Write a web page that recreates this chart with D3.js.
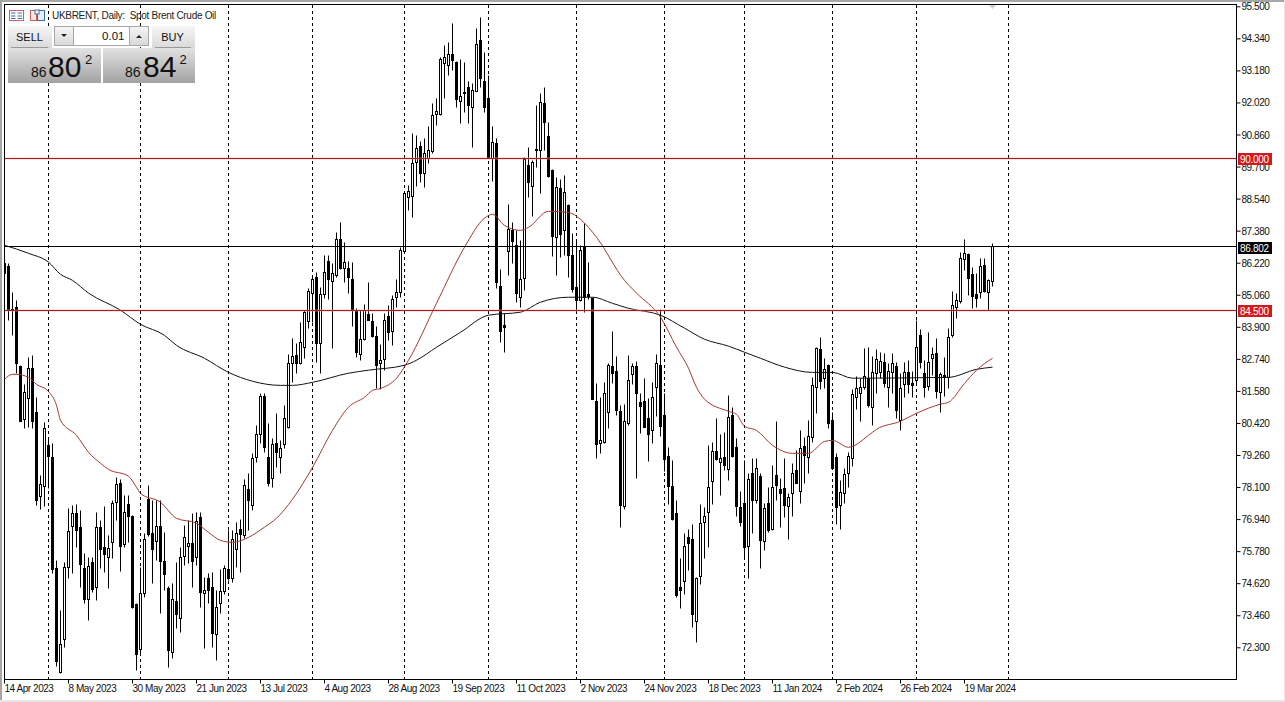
<!DOCTYPE html>
<html><head><meta charset="utf-8">
<script src="https://cdn.jsdelivr.net/npm/d3@7/dist/d3.min.js"></script>
<style>
html,body{margin:0;padding:0;background:#fff;overflow:hidden}
svg{display:block}
text{font-family:"Liberation Sans",Arial,sans-serif}
.axis text{font-size:10px;fill:#111;letter-spacing:-0.45px}
</style></head><body>
<svg id="c" width="1285" height="702"></svg>
<script>
const opens=[86.20,86.09,84.50,84.61,82.47,80.55,81.31,82.40,80.81,77.76,
78.13,79.61,79.18,75.16,71.39,72.59,75.20,76.68,77.15,76.65,
75.16,74.04,75.38,74.47,76.65,75.92,75.56,76.10,77.55,78.24,
76.03,77.48,77.04,73.86,72.23,74.25,77.66,76.43,76.14,76.68,
75.41,74.43,72.12,73.96,73.35,75.59,75.96,76.06,75.56,77.01,
74.25,74.80,74.47,72.77,73.89,74.32,75.12,74.80,75.85,76.57,
76.36,78.02,77.44,79.18,80.01,81.38,79.18,78.41,79.68,79.18,
79.65,80.26,82.58,82.87,82.58,83.16,84.10,85.12,85.69,83.30,
85.08,86.27,85.55,85.76,87.07,86.02,86.02,85.62,84.50,82.91,
83.45,84.35,84.10,83.56,82.58,82.73,84.28,83.74,84.97,85.15,
86.63,88.59,88.62,89.85,90.44,89.46,90.00,90.25,91.59,91.59,
93.44,93.37,93.76,93.47,92.06,92.35,92.57,91.85,92.42,94.27,
92.79,92.17,90.00,90.54,85.37,83.95,86.63,87.39,86.85,84.97,
85.66,89.75,88.98,90.29,90.29,91.99,90.79,89.57,87.14,88.91,
87.39,88.30,86.49,85.33,84.86,86.81,85.08,84.93,81.20,79.68,
79.72,80.81,82.47,82.29,80.84,77.40,80.40,82.18,82.47,81.17,
81.20,80.59,80.15,81.71,82.51,80.70,79.21,78.13,77.15,74.47,
74.69,76.28,76.21,73.24,74.87,76.83,77.19,78.31,79.39,78.99,
79.18,78.74,80.70,79.54,77.37,77.51,75.96,78.59,77.62,78.49,
76.14,77.51,76.57,78.52,78.02,78.05,77.40,77.87,78.70,77.94,
79.58,79.18,79.90,81.71,83.09,82.04,82.51,80.52,79.18,77.44,
77.87,78.60,79.14,81.35,81.49,81.71,82.04,80.99,82.22,82.25,
82.62,81.71,82.25,82.47,80.52,81.82,82.25,81.85,81.96,83.59,
82.22,81.75,82.76,82.94,81.53,82.14,82.07,83.59,84.61,84.82,
86.34,86.52,85.80,85.08,85.15,86.13,85.15,85.55];
const highs=[86.24,86.20,85.15,84.86,82.50,81.82,82.80,82.87,81.35,78.52,
80.44,79.83,79.68,75.45,73.64,75.38,77.33,77.44,77.48,77.26,
75.70,75.56,75.56,77.19,76.90,77.40,76.36,77.62,78.45,78.38,
77.80,77.80,77.08,73.90,75.20,76.43,78.16,77.62,77.62,77.62,
76.46,74.51,74.62,75.38,75.92,76.72,76.90,77.15,77.19,77.19,
74.83,74.98,75.02,74.36,75.12,75.27,76.54,76.54,76.83,76.93,
78.38,78.59,79.32,80.33,81.49,81.49,80.40,79.86,80.77,79.79,
81.06,82.91,83.48,83.30,84.06,84.50,85.30,85.76,85.87,85.33,
86.49,86.49,86.20,87.32,87.68,86.96,86.27,86.24,84.55,84.50,
84.72,85.51,84.39,83.92,83.27,84.39,84.68,85.04,85.62,86.78,
88.77,89.02,90.90,90.83,90.62,90.72,91.16,91.99,92.17,93.65,
94.09,94.20,94.88,93.50,93.58,93.47,92.79,92.71,94.70,95.10,
93.83,93.00,91.16,90.72,85.98,84.39,88.33,87.68,87.39,87.03,
90.04,90.40,89.93,91.92,92.35,92.57,91.30,89.60,89.31,89.24,
89.38,88.33,87.28,87.03,86.85,87.65,86.24,84.96,81.85,81.35,
81.89,82.58,83.74,82.83,81.06,81.10,82.87,82.58,82.65,81.49,
82.04,81.31,81.89,82.91,84.54,81.49,79.54,79.07,77.62,75.52,
76.43,76.57,76.75,74.84,77.48,77.37,79.61,79.72,80.59,80.01,
80.08,81.42,80.99,79.86,77.94,79.07,78.59,79.14,79.14,78.59,
77.51,78.09,78.89,80.48,78.41,79.14,77.87,78.96,79.43,80.15,
79.90,80.52,82.07,83.16,83.52,82.76,82.55,80.81,79.32,78.34,
78.78,79.35,81.64,82.11,82.04,83.12,83.16,82.83,83.09,82.98,
82.94,82.58,82.94,82.62,82.22,82.62,82.69,82.29,84.14,83.81,
82.69,83.70,83.16,83.48,82.25,82.80,83.85,85.19,85.12,86.60,
87.07,86.56,86.05,85.84,86.38,86.38,85.62,86.92];
const lows=[85.80,84.14,83.59,82.22,80.48,80.23,80.26,80.23,77.44,77.29,
77.40,78.06,74.98,71.61,71.35,72.30,74.80,74.98,75.92,74.47,
73.89,73.28,74.29,74.00,75.16,75.02,74.43,75.52,76.90,75.05,
75.92,76.10,73.71,71.46,72.01,74.11,76.32,74.62,75.45,73.53,
74.36,71.57,71.90,72.99,72.84,75.27,75.34,74.47,75.27,73.75,
72.26,73.89,72.30,71.83,73.53,74.22,74.72,74.65,75.20,75.02,
76.25,76.54,77.26,79.00,79.68,79.35,78.13,78.09,78.81,78.59,
79.50,80.23,81.89,82.22,82.55,82.76,83.85,84.06,82.62,82.22,
84.93,84.90,83.12,85.69,85.98,85.51,85.12,83.92,82.80,82.69,
83.41,84.12,83.52,81.67,81.64,82.33,83.41,83.23,84.61,84.97,
86.60,88.12,87.86,88.98,89.13,88.95,89.82,90.18,91.20,91.56,
92.17,93.00,93.18,91.85,91.27,91.66,91.27,90.40,92.40,92.57,
91.66,90.02,89.16,85.30,83.34,82.98,85.76,86.20,84.79,84.61,
85.22,88.59,87.90,89.67,88.73,90.29,89.31,86.45,85.76,86.42,
86.49,85.69,85.15,84.43,84.82,84.43,84.90,81.26,79.14,79.32,
79.68,80.23,81.85,80.70,76.65,77.29,80.33,81.82,78.41,80.05,
80.24,79.03,79.68,80.66,79.94,78.66,77.48,76.90,74.11,73.71,
74.22,75.09,73.02,72.48,74.58,75.52,75.92,77.48,79.07,77.80,
78.70,78.34,79.18,77.04,76.68,75.52,74.80,76.43,77.51,75.16,
75.81,76.46,76.54,77.62,76.65,77.01,76.21,77.04,78.22,77.51,
78.24,78.59,79.72,80.77,81.64,81.67,80.23,78.74,76.75,76.57,
77.51,78.09,78.85,80.91,80.48,81.64,80.99,80.33,81.49,82.04,
81.71,80.99,81.49,80.59,80.15,81.35,81.49,81.35,81.78,82.40,
81.35,81.60,82.14,81.31,80.81,81.38,81.67,83.52,84.21,84.75,
85.94,85.04,84.57,84.61,84.93,85.15,84.50,85.37];
const closes=[85.84,84.50,84.54,82.58,80.48,81.53,82.40,80.48,77.62,78.20,
80.23,79.21,75.12,71.79,72.41,75.20,76.50,77.15,76.54,75.30,
74.04,75.23,74.40,76.65,75.85,75.67,75.88,77.51,78.20,75.96,
77.19,77.04,73.75,72.05,74.25,76.21,76.39,75.85,76.68,75.41,
74.94,72.19,74.04,73.49,75.56,76.28,76.06,75.41,76.86,74.29,
74.36,74.36,72.81,73.75,74.32,75.16,74.80,76.21,76.43,76.39,
78.16,77.62,79.14,80.01,81.38,79.54,78.24,79.65,79.35,79.50,
80.59,82.58,82.83,82.58,83.34,84.43,85.19,85.62,83.30,85.08,
85.87,85.62,85.84,87.07,86.02,86.24,85.69,84.50,82.98,83.45,
84.50,84.14,83.56,82.51,82.69,84.14,83.70,84.90,85.15,86.67,
88.73,88.80,89.82,90.36,89.46,90.18,90.29,91.56,91.70,93.58,
93.65,93.76,93.55,92.13,92.24,92.39,91.92,92.46,94.12,92.89,
91.85,90.04,90.58,85.51,83.74,83.88,87.43,86.99,85.12,85.62,
89.96,89.13,89.85,90.33,92.02,91.30,89.35,87.17,88.95,87.25,
88.77,86.49,85.26,84.86,86.67,84.97,85.01,81.28,79.65,79.79,
81.49,82.51,82.22,80.88,77.44,80.48,81.96,82.47,81.49,81.02,
80.26,80.01,81.35,82.58,80.30,79.10,78.13,76.93,74.18,74.36,
75.96,76.06,73.49,74.80,76.79,77.04,78.09,79.39,79.10,79.14,
78.89,80.62,79.21,77.40,76.83,75.92,78.38,77.62,78.78,76.17,
77.33,76.54,78.09,78.16,77.87,77.44,77.73,78.59,78.24,79.50,
79.25,79.94,81.78,83.12,81.93,82.36,80.40,78.78,77.37,77.91,
78.56,79.21,81.46,81.67,81.71,82.11,81.06,82.25,82.73,82.65,
81.85,82.29,82.58,80.88,81.67,82.25,81.82,81.78,83.16,82.62,
81.71,82.62,82.91,81.57,82.18,82.07,83.52,84.68,84.86,86.38,
86.56,85.66,85.01,84.93,86.09,85.19,85.58,86.80];

const fastBars=[0,2,3,6,8,11,13,14,18,21,24,26,31,33,34,39,43,48,51,54,57,61,65,68,72,77,82,86,90,92,94,98,101,108,115,120,122,125,129,131,136,141,144,148,155,158,164,168,171,173,175,181,183,185,188,192,197,201,205,207,211,216,218,224,228,234,236,240,243,247];
const fastMA=[82.00,82.18,82.18,82.07,81.82,81.56,81.06,80.52,79.97,79.36,78.96,78.74,78.49,78.09,77.87,77.55,76.97,76.79,76.46,76.17,76.10,76.28,76.65,76.97,77.66,78.81,80.15,80.99,81.35,81.60,81.67,82.04,82.69,84.75,86.78,87.83,87.97,87.57,87.39,87.50,88.08,88.04,87.79,87.14,85.58,85.12,84.25,83.16,82.40,81.71,81.28,80.84,80.73,80.30,80.15,79.61,79.32,79.32,79.75,79.79,79.54,79.97,80.19,80.48,80.77,81.10,81.17,81.85,82.33,82.76];
const slowBars=[0,6,11,14,17,21,29,34,40,43,50,56,62,69,72,77,86,91,100,103,108,114,121,129,134,141,147,152,156,164,170,175,181,185,189,195,202,207,212,236,243,247];
const slowMA=[86.85,86.56,86.24,85.80,85.58,85.12,84.50,83.99,83.59,83.23,82.76,82.25,81.93,81.78,81.78,81.89,82.22,82.33,82.51,82.69,83.16,83.70,84.32,84.43,84.79,84.97,84.97,84.75,84.57,84.32,83.85,83.45,83.20,82.98,82.76,82.44,82.25,82.25,82.04,82.07,82.36,82.44];

const priceTicks=[95.5,94.34,93.18,92.02,90.86,89.7,88.54,87.38,86.22,85.06,83.9,82.74,81.58,80.42,79.26,78.1,76.94,75.78,74.62,73.46,72.3];
const dateBars=[0,16,32,48,64,80,96,112,128,144,160,176,192,208,224,240];
const dateLabels=["14 Apr 2023","8 May 2023","30 May 2023","21 Jun 2023","13 Jul 2023","4 Aug 2023","28 Aug 2023","19 Sep 2023","11 Oct 2023","2 Nov 2023","24 Nov 2023","18 Dec 2023","11 Jan 2024","2 Feb 2024","26 Feb 2024","19 Mar 2024"];
const gridBars=[11,34,56,77,100,121,143,165,185,207,228,251];
const redLevels=[90.0,84.5];
const lastPrice=86.802;

const svg=d3.select("#c");
const x=d3.scaleLinear().domain([0,1]).range([4.5,8.5]);
const y=d3.scaleLinear().domain([72.3,95.5]).range([647.3,6.3]);
const py=v=>Math.round(y(v)-0.5)+0.5;

// window frame
svg.append("rect").attr("width",1285).attr("height",702).attr("fill","#fff");
svg.append("rect").attr("width",1285).attr("height",2).attr("fill","#a6a6a6");
svg.append("rect").attr("width",2).attr("height",702).attr("fill","#a6a6a6");
svg.append("rect").attr("y",700).attr("width",1285).attr("height",2).attr("fill","#e6e6e6");
svg.append("rect").attr("x",1284).attr("width",1).attr("height",702).attr("fill","#e6e6e6");

svg.append("defs").append("clipPath").attr("id","plot").append("rect")
  .attr("x",4).attr("y",4).attr("width",1232).attr("height",675);
const plot=svg.append("g").attr("clip-path","url(#plot)");

// month separators
plot.selectAll("line.grid").data(gridBars).join("line").attr("class","grid")
  .attr("x1",d=>x(d)).attr("x2",d=>x(d)).attr("y1",5).attr("y2",679)
  .attr("stroke","#000").attr("stroke-width",1).attr("stroke-dasharray","3,3");

// scroll marker
svg.append("path").attr("d",d3.line()([[988,4],[997,4],[992.5,9]])+"Z").attr("fill","#cfcfcf");

// candles
const bars=d3.range(opens.length).map(i=>({i,o:opens[i],h:highs[i],l:lows[i],c:closes[i]}));
const g=plot.selectAll("g.bar").data(bars).join("g").attr("class","bar");
g.append("line").attr("x1",d=>x(d.i)).attr("x2",d=>x(d.i))
  .attr("y1",d=>py(d.h)).attr("y2",d=>py(d.l)).attr("stroke","#000");
g.append("rect").attr("x",d=>x(d.i)-1).attr("width",2)
  .attr("y",d=>py(Math.max(d.o,d.c)))
  .attr("height",d=>Math.max(py(Math.min(d.o,d.c))-py(Math.max(d.o,d.c)),1))
  .attr("fill",d=>d.c>=d.o?"#fff":"#000").attr("stroke","#000");

// moving averages
const lineGen=d3.line().x(d=>x(d[0])).y(d=>y(d[1])).curve(d3.curveMonotoneX);
plot.append("path").attr("d",lineGen(slowBars.map((b,i)=>[b,slowMA[i]])))
  .attr("fill","none").attr("stroke","#111").attr("stroke-width",1);
plot.append("path").attr("d",lineGen(fastBars.map((b,i)=>[b,fastMA[i]])))
  .attr("fill","none").attr("stroke","#a83434").attr("stroke-width",1);

// horizontal levels
plot.selectAll("line.halo").data(redLevels).join("line").attr("class","halo")
  .attr("x1",4).attr("x2",1236).attr("y1",d=>py(d)).attr("y2",d=>py(d))
  .attr("stroke","#e8a0a0").attr("stroke-width",3).attr("stroke-opacity",0.3);
plot.selectAll("line.lvl").data(redLevels).join("line").attr("class","lvl")
  .attr("x1",4).attr("x2",1236).attr("y1",d=>py(d)).attr("y2",d=>py(d))
  .attr("stroke","#a81c1c");
plot.append("line").attr("x1",4).attr("x2",1236).attr("y1",py(lastPrice)).attr("y2",py(lastPrice)).attr("stroke","#000");

// frame + axes
svg.append("rect").attr("x",4.5).attr("y",4.5).attr("width",1232).attr("height",675)
  .attr("fill","none").attr("stroke","#000");
const yAxis=d3.axisRight(y).tickValues(priceTicks).tickFormat(d3.format(".3f")).tickSize(4).tickPadding(1);
const ya=svg.append("g").attr("class","axis").attr("transform","translate(1236.5,0)").call(yAxis);
ya.select(".domain").remove();
ya.selectAll("text").attr("dy","0.35em");
const xAxis=d3.axisBottom(x).tickValues(dateBars).tickFormat((d,i)=>dateLabels[i]).tickSize(4).tickPadding(2);
const xa=svg.append("g").attr("class","axis").attr("transform","translate(-0.5,679.5)").call(xAxis);
xa.select(".domain").remove();
xa.selectAll("text").attr("text-anchor","start").attr("dx","0").attr("dy","0.6em");

// price tags
const tag=(v,fill)=>{
  const yy=Math.round(y(v));
  svg.append("rect").attr("x",1238).attr("y",yy-5).attr("width",34).attr("height",12).attr("fill",fill);
  svg.append("text").attr("x",1240).attr("y",yy+4.5).attr("fill","#fff").attr("font-size",10).attr("letter-spacing","-0.3px").text(d3.format(".3f")(v));
};
redLevels.forEach(v=>tag(v,"#d3191c"));
tag(lastPrice,"#000");

// title + icons
svg.append("text").attr("x",52).attr("y",19).attr("font-size",10).attr("fill","#222").attr("letter-spacing","-0.3px").style("white-space","pre").text("UKBRENT, Daily:  Spot Brent Crude Oil");
const ic=svg.append("g");
ic.append("rect").attr("x",9.5).attr("y",10.5).attr("width",14).attr("height",10).attr("fill","#fff").attr("stroke","#d0605a");
[13,16,18.5].forEach(yy=>{ic.append("line").attr("x1",11).attr("x2",15.5).attr("y1",yy).attr("y2",yy).attr("stroke","#3a6db0");ic.append("line").attr("x1",17.5).attr("x2",22).attr("y1",yy).attr("y2",yy).attr("stroke","#3a6db0");});
ic.append("rect").attr("x",30.5).attr("y",10.5).attr("width",6).attr("height",10).attr("fill","#fde8e4").attr("stroke","#d0605a");
ic.append("rect").attr("x",37.5).attr("y",10.5).attr("width",7).attr("height",10).attr("fill","#e6eefa").attr("stroke","#3a6db0");
ic.append("rect").attr("x",35).attr("y",10).attr("width",4).attr("height",4).attr("fill","#fff").attr("stroke","#3a6db0");

// one-click trading panel
const defs=svg.select("defs");
const grad=(id,a,b)=>{const lg=defs.append("linearGradient").attr("id",id).attr("x1",0).attr("y1",0).attr("x2",0).attr("y2",1);
  lg.append("stop").attr("offset",0).attr("stop-color",a);lg.append("stop").attr("offset",1).attr("stop-color",b);};
grad("btn","#f6f6f6","#d8d8d8");grad("big","#e2e2e2","#a2a2a2");
const panel=svg.append("g");
const box=(xx,yy,w,h,f,s)=>panel.append("rect").attr("x",xx).attr("y",yy).attr("width",w).attr("height",h).attr("fill",f).attr("stroke",s||"none");
box(8,26,44,23,"url(#btn)");box(152,26,43,23,"url(#btn)");
panel.append("line").attr("x1",11).attr("x2",48).attr("y1",47.5).attr("y2",47.5).attr("stroke","#999");
panel.append("line").attr("x1",155).attr("x2",191).attr("y1",47.5).attr("y2",47.5).attr("stroke","#999");
box(54.5,26.5,94,19,"#fff","#a8a8a8");
box(54.5,26.5,19,19,"url(#btn)","#a8a8a8");box(129.5,26.5,19,19,"url(#btn)","#a8a8a8");
panel.append("path").attr("d","M61 34h6l-3 3z").attr("fill","#222");
panel.append("path").attr("d","M136 38h6l-3-3z").attr("fill","#222");
box(8,48,93,35,"url(#big)");box(103,48,92,35,"url(#big)");
const t=(xx,yy,s,sz,anchor)=>panel.append("text").attr("x",xx).attr("y",yy).attr("font-size",sz).attr("fill","#111").attr("text-anchor",anchor||"start").text(s);
t(29.5,41,"SELL",11,"middle");t(172.5,41,"BUY",11,"middle");t(124.5,40,"0.01",11.5,"end");
t(31,77,"86",14);t(48,77,"80",30);t(85,64,"2",13);
t(125,77,"86",14);t(143,77,"84",30);t(179.5,64,"2",13);
</script></body></html>
